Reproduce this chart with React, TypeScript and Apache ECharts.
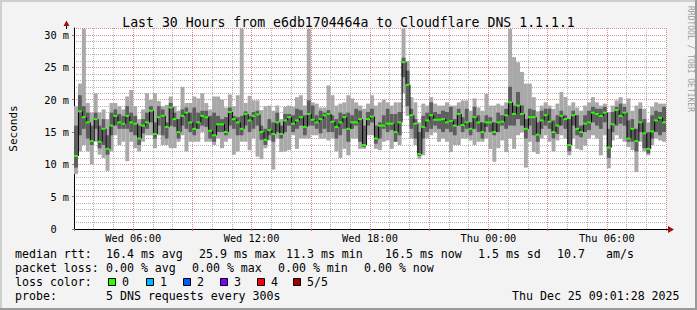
import React, { useEffect, useRef } from "react";
import * as echarts from "echarts";

// ---- time axis (hours since Wed 00:00) ----
const START_HOUR = 3;
const END_HOUR = 33;
const STEP_HOURS = 0.2; // one smoke column = 12 minutes

const xTickHours = [6, 12, 18, 24, 30];
const xTickLabels = ["Wed 06:00", "Wed 12:00", "Wed 18:00", "Thu 00:00", "Thu 06:00"];

// ---- RTT values in ms, one per column ----
const medianMs = [
  11.3, 18.2, 17.3, 16.5, 13.6, 17, 13.5, 15.5, 12.4, 16, 17.5, 16.5, 16.3, 17.5, 16.5, 16.3, 14, 16, 16.5, 18.3,
  14.7, 17.3, 17.5, 15.8, 18.8, 17, 15, 17.5, 18, 16.5, 15.5, 16.5, 17.5, 17.3, 15.2, 14.5, 16.2, 16.2, 15, 18.1,
  17, 16.5, 15.5, 17.8, 16.8, 17.5, 17.7, 15, 13.8, 15.3, 14.7, 16.5, 14.7, 16.8, 17.3, 16.3, 16.8, 17.3, 15.8, 17.8,
  16.9, 16.5, 17, 17.6, 17.8, 16.6, 15.8, 16.5, 17.3, 15.5, 16.5, 16.5, 17, 13, 17, 17.4, 14, 16, 16, 16.3,
  16.3, 15, 16.5, 25.8, 22.3, 17.6, 16.3, 11.6, 15.8, 16.8, 17.6, 16.9, 16.9, 17, 16.5, 16.7, 16, 17.8, 16.1, 16.5,
  15.5, 17.3, 16.5, 15, 16.5, 16.5, 15, 16.5, 16.6, 17.6, 19.6, 17.8, 19.1, 17.8, 15.5, 17.3, 17.3, 14.6, 16.8, 17.6,
  16.6, 15, 16, 17.5, 17, 13, 17.6, 15.5, 15, 16.3, 16.5, 18, 17.8, 17.5, 18, 12.6, 16.2, 18.4, 17.5, 18,
  14, 15.5, 13.6, 16.5, 14.8, 12.4, 15.1, 16.8, 17.2, 16.5,
];
const innerLowMs = [
  9.5, 14.5, 15.5, 14, 13, 15.5, 12.5, 13, 11.5, 14.5, 16, 15.5, 15.5, 15.5, 15, 14.5, 13, 14.8, 15.5, 16.5,
  14, 16, 14.5, 14, 16, 15.8, 14, 16, 15.5, 15, 14.5, 15.5, 16, 15.8, 14, 13.5, 15, 15, 14.5, 16,
  15.5, 14.5, 14.5, 16, 15, 15.5, 16, 13.8, 13, 14.5, 13.5, 15, 14, 15, 16, 15, 15.5, 16, 14.5, 16,
  16, 15.5, 14.8, 15.5, 15, 15, 14, 14.5, 15.5, 13.5, 15.5, 16, 13.5, 12.7, 16, 16.5, 13.2, 14, 15.5, 15,
  15.3, 13.5, 14.5, 23.5, 19, 15.5, 14, 11.3, 14, 15, 15.5, 16, 15.5, 15, 15.5, 15, 14.5, 16, 15, 15.5,
  14.5, 15.5, 15, 14, 15.8, 15, 14.5, 15, 16, 15.5, 16, 16, 17, 16, 14, 16, 14.5, 13.5, 15.5, 16,
  15.5, 14, 14.7, 16, 15.5, 12, 16, 14.5, 14.2, 15, 15.3, 16.5, 16, 15.5, 16.5, 11, 15, 16, 16.3, 16,
  13.5, 13.5, 12, 15, 12.5, 11.7, 14, 15, 14.5, 15,
];
const innerHighMs = [
  16, 20.7, 19, 18, 16, 18, 16, 17, 14.5, 18, 18.5, 17.8, 17.5, 19, 18, 17.5, 16, 17, 18, 19,
  16.5, 19, 18.5, 16.5, 19.5, 18, 17, 18.5, 18.8, 18, 18.8, 18, 18.3, 18.3, 17.5, 18, 17.5, 17, 17.3, 18.8,
  17.5, 17.3, 17.5, 18.2, 17.5, 18.1, 18.3, 16, 15.5, 17, 16.5, 18, 16, 17.8, 17.8, 17.6, 18.6, 18.4, 17.6, 19.9,
  19.1, 17.6, 18.3, 18, 18.4, 17.6, 17, 18, 17.8, 18, 17.6, 18.6, 18.3, 16, 18.1, 18.6, 16, 16.5, 17.6, 18.6,
  17.8, 17.8, 18.1, 26.5, 24.5, 18.6, 17, 15, 17.5, 18, 19.6, 18.1, 17.8, 18.3, 18.1, 18.9, 17, 18.6, 17.3, 18.6,
  16.5, 18.9, 17.6, 16.5, 17.6, 17.3, 16.5, 18, 17.6, 18.6, 22, 19.1, 21.2, 19.1, 17, 18.6, 18.4, 16.5, 18.3, 18.6,
  18.6, 16.8, 17.6, 18.3, 17.6, 17, 18.3, 17.6, 16, 17.6, 18.3, 18.9, 18.6, 18.6, 18.9, 15.5, 18.1, 18.9, 19.4, 18.9,
  16.8, 17, 15.5, 18.6, 17, 15, 17.6, 18.3, 18.1, 18.9,
];
const minMs = [
  8.5, 12, 13, 12, 10, 13.5, 11.5, 11, 9, 12, 14.5, 13, 13.5, 10.5, 13.5, 12.5, 12, 13.5, 14.5, 14.5,
  12.5, 14.5, 13, 13, 12.5, 12.5, 13.5, 14.5, 12, 13.5, 13.5, 13.5, 15, 13.5, 13.5, 13, 14, 12.5, 13.5, 14,
  11.5, 12, 13.5, 13.5, 12.2, 14, 11.2, 10.8, 12.5, 13.7, 9.2, 14, 11.9, 12, 12.2, 14.5, 12.4, 14, 14, 14,
  14.5, 14.5, 14, 14, 13.7, 14, 12, 11, 12.4, 11.4, 14, 14, 12.4, 12.4, 14.5, 14.5, 12.4, 12.2, 13.5, 13.7,
  12.4, 13.5, 13, 21, 17.5, 14, 13, 10.8, 11.4, 14, 14.5, 15, 13.5, 14, 13.5, 11.9, 13, 13, 14, 14,
  13.7, 13, 13.5, 13.5, 14, 12.4, 10.4, 12.5, 13.7, 11.9, 14, 12.4, 14.5, 15, 9.5, 13.5, 11.9, 11.6, 14, 14.5,
  13.5, 12, 13.7, 14.5, 14, 11.4, 14, 12.4, 12.2, 12.9, 14, 14.5, 14, 11.4, 14.5, 9.4, 13.7, 14.5, 14, 13.5,
  12.7, 12.2, 8.8, 13.5, 12, 11.4, 13, 14, 13.7, 13.5,
];
const maxMs = [
  19, 22.5, 31, 19.5, 18, 21, 18, 18.5, 17, 19.5, 19.5, 19, 18.5, 20.5, 21.5, 19, 17, 18.5, 21, 20,
  21, 19.8, 19, 19.2, 20.5, 19, 18.3, 22, 19.5, 19.5, 20.5, 20.2, 21, 19.5, 18.5, 20.5, 20.5, 20, 18.8, 20.8,
  19, 20.7, 31, 19.5, 20.6, 19.9, 19.9, 18.4, 19, 19.1, 18.3, 19.1, 17, 18.9, 19.1, 18.9, 20.4, 20.7, 19.1, 31,
  19.6, 19.4, 18.8, 18.8, 22.2, 20.7, 19.1, 19.4, 19.6, 20.7, 20.2, 19.6, 19.1, 18.6, 19.4, 20.7, 19.1, 19.6, 20, 19.6,
  19.1, 19.6, 19.6, 31, 26, 20.4, 19.6, 16.5, 19.4, 19.1, 20.4, 19.4, 19.1, 19.1, 19.6, 19.1, 19.1, 19.6, 19.9, 19.9,
  18.3, 20.2, 18.8, 18.3, 20.9, 19.1, 19.1, 19.4, 19.1, 19.6, 31, 26.6, 25.8, 24.3, 22.5, 22.5, 20.4, 18.2, 19.1, 19.6,
  19.1, 18.6, 19.4, 21.2, 20.4, 19.1, 19.6, 18.8, 18.3, 19.1, 19.6, 20.4, 19.6, 19.1, 19.4, 18.1, 19.1, 19.9, 20.4, 19.4,
  20.2, 18.3, 19.1, 19.6, 18.6, 16.5, 18.9, 19.6, 19.4, 19.4,
];

// ---- legend texts ----
const title = "Last 30 Hours from e6db1704464a to Cloudflare DNS 1.1.1.1";
const rttStats = ["16.4 ms avg", "25.9 ms max", "11.3 ms min", "16.5 ms now", "1.5 ms sd", "10.7", "am/s"];
const lossStats = ["0.00 % avg", "0.00 % max", "0.00 % min", "0.00 % now"];
const lossLabels = ["0", "1", "2", "3", "4", "5/5"];
const lossColors = ["#26ff00", "#00b8ff", "#0059ff", "#7e00ff", "#ff0000", "#a10000"];
const probeText = "5 DNS requests every 300s";
const stampText = "Thu Dec 25 09:01:28 2025";

const MONO = "'DejaVu Sans Mono', 'Liberation Mono', monospace";

export default function App() {
  const ref = useRef<HTMLDivElement>(null);

  useEffect(() => {
    document.body.style.margin = "0";
    if (!ref.current) return;
    const chart = echarts.init(ref.current, null, { renderer: "svg" });

    const smokeData = minMs.map((v, i) => [
      START_HOUR + (i + 0.5) * STEP_HOURS,
      v,
      innerLowMs[i],
      medianMs[i],
      innerHighMs[i],
      maxMs[i],
    ]);
    const medData = medianMs.map((v, i) => [
      START_HOUR + (i + 0.5) * STEP_HOURS,
      v,
      i === 0 ? v : medianMs[i - 1],
    ]);

    const rttX = [107, 200, 287, 386, 479, 558, 607];
    const lossX = [107, 193, 279, 365];
    const squareX = [108, 146, 183, 220, 257, 293];
    const rowY = [253.5, 267.8, 282.1, 296.4];
    const legendFont = { fontFamily: MONO, fontSize: 11.6, fill: "#000", verticalAlign: "middle" as const };

    const graphics: any[] = [
      // frame
      { type: "rect", shape: { x: 0, y: 0, width: 697, height: 2 }, style: { fill: "#cfcfcf" }, silent: true },
      { type: "rect", shape: { x: 0, y: 0, width: 2, height: 310 }, style: { fill: "#cfcfcf" }, silent: true },
      { type: "rect", shape: { x: 695, y: 0, width: 2, height: 310 }, style: { fill: "#9a9a9a" }, silent: true },
      { type: "rect", shape: { x: 0, y: 308, width: 697, height: 2 }, style: { fill: "#9a9a9a" }, silent: true },
      // axis extensions and arrows
      { type: "line", shape: { x1: 66.5, y1: 25, x2: 66.5, y2: 29 }, style: { stroke: "#000", lineWidth: 1 }, z: 10 },
      { type: "line", shape: { x1: 665, y1: 229.5, x2: 669, y2: 229.5 }, style: { stroke: "#000", lineWidth: 1 }, z: 10 },
      { type: "polygon", shape: { points: [[63.5, 26], [66.5, 20.5], [69.5, 26]] }, style: { fill: "#a01010" }, z: 10 },
      { type: "polygon", shape: { points: [[668, 226], [674, 229.5], [668, 233]] }, style: { fill: "#a01010" }, z: 10 },
      // watermark
      {
        type: "text",
        x: 690.5,
        y: 59,
        rotation: -Math.PI / 2,
        style: { text: "RRDTOOL / TOBI OETIKER", fontFamily: MONO, fontSize: 8, fill: "#9c9c9c", align: "center", verticalAlign: "middle" },
      },
      // legend rows
      { type: "text", x: 15, y: rowY[0], style: { ...legendFont, text: "median rtt:" } },
      { type: "text", x: 15, y: rowY[1], style: { ...legendFont, text: "packet loss:" } },
      { type: "text", x: 15, y: rowY[2], style: { ...legendFont, text: "loss color:" } },
      { type: "text", x: 15, y: rowY[3], style: { ...legendFont, text: "probe:" } },
      { type: "text", x: 106, y: rowY[3], style: { ...legendFont, text: probeText } },
      { type: "text", x: 512, y: rowY[3], style: { ...legendFont, text: stampText } },
    ];
    rttStats.forEach((s, i) => graphics.push({ type: "text", x: rttX[i] - 1, y: rowY[0], style: { ...legendFont, text: s } }));
    lossStats.forEach((s, i) => graphics.push({ type: "text", x: lossX[i] - 1, y: rowY[1], style: { ...legendFont, text: s } }));
    lossLabels.forEach((s, i) => {
      graphics.push({
        type: "rect",
        shape: { x: squareX[i] + 0.5, y: 278.5, width: 7, height: 7 },
        style: { fill: lossColors[i], stroke: "#000", lineWidth: 1 },
      });
      graphics.push({ type: "text", x: squareX[i] + 14, y: rowY[2], style: { ...legendFont, text: s } });
    });

    const gridMajor = { color: "#e08a8a", width: 1, type: [1, 1] as any };
    const gridMinor = { color: "#b4b4b4", width: 1, type: [1, 1] as any };

    const hiddenAxis = {
      axisLine: { show: false },
      axisTick: { show: false },
      axisLabel: { show: false },
    };

    chart.setOption({
      animation: false,
      backgroundColor: "#f3f3f3",
      title: {
        text: title,
        left: "center",
        top: 11,
        textStyle: { fontFamily: MONO, fontSize: 13.2, fontWeight: "normal", color: "#000" },
      },
      grid: { left: 66, top: 28, width: 600, height: 201, show: true, backgroundColor: "#ffffff", borderWidth: 0 },
      xAxis: [
        {
          // hourly minor grid
          type: "value",
          position: "bottom",
          min: START_HOUR,
          max: END_HOUR,
          interval: 1,
          ...hiddenAxis,
          splitLine: { show: true, lineStyle: gridMinor },
        },
        {
          type: "value",
          position: "bottom",
          offset: 0,
          min: START_HOUR,
          max: END_HOUR,
          interval: 3,
          axisLine: { show: true, onZero: false, lineStyle: { color: "#000", width: 1 } },
          axisTick: { show: true, length: 2, lineStyle: { color: "#b07070" } },
          axisLabel: {
            formatter: (v: number) => {
              const k = xTickHours.indexOf(Math.round(v));
              return k >= 0 ? xTickLabels[k] : "";
            },
            fontFamily: MONO,
            fontSize: 10.3,
            color: "#000",
            margin: 4,
          },
          splitLine: { show: true, lineStyle: gridMajor },
        },
      ],
      yAxis: [
        {
          // 1 ms minor grid
          type: "value",
          position: "left",
          min: 0,
          max: 31.1,
          interval: 1,
          ...hiddenAxis,
          splitLine: { show: true, lineStyle: gridMinor },
        },
        {
          type: "value",
          position: "left",
          offset: 0,
          min: 0,
          max: 31.1,
          interval: 5,
          name: "Seconds",
          nameLocation: "middle",
          nameGap: 55,
          nameTextStyle: { fontFamily: MONO, fontSize: 11, color: "#000" },
          axisLine: { show: true, onZero: false, lineStyle: { color: "#000", width: 1 } },
          axisTick: { show: true, length: 2, lineStyle: { color: "#b07070" } },
          axisLabel: {
            formatter: (v: number) => (v === 0 ? "0\u00a0\u00a0" : `${v} m`),
            fontFamily: MONO,
            fontSize: 10.3,
            color: "#000",
            margin: 5,
            showMaxLabel: false,
          },
          splitLine: { show: true, lineStyle: gridMajor },
        },
      ],
      series: [
        {
          type: "custom",
          name: "smoke",
          xAxisIndex: 1,
          yAxisIndex: 1,
          data: smokeData,
          clip: true,
          renderItem: (params: any, api: any) => {
            const t = api.value(0);
            const left = api.coord([t - STEP_HOURS / 2, 0])[0];
            const right = api.coord([t + STEP_HOURS / 2, 0])[0];
            const yMin = api.coord([t, api.value(1)])[1];
            const yLo = api.coord([t, api.value(2)])[1];
            const yHi = api.coord([t, api.value(4)])[1];
            const yMax = api.coord([t, api.value(5)])[1];
            return {
              type: "group",
              children: [
                { type: "rect", shape: { x: left, y: yMax, width: right - left, height: yMin - yMax }, style: { fill: "#a9a9a9" } },
                { type: "rect", shape: { x: left, y: yHi, width: right - left, height: yLo - yHi }, style: { fill: "#5e5e5e" } },
              ],
            };
          },
        },
        {
          type: "custom",
          name: "median",
          xAxisIndex: 1,
          yAxisIndex: 1,
          data: medData,
          clip: true,
          z: 3,
          renderItem: (params: any, api: any) => {
            const t = api.value(0);
            const left = api.coord([t - STEP_HOURS / 2, 0])[0];
            const right = api.coord([t + STEP_HOURS / 2, 0])[0];
            const yMed = api.coord([t, api.value(1)])[1];
            const yPrev = api.coord([t, api.value(2)])[1];
            return {
              type: "group",
              children: [
                { type: "line", shape: { x1: left + 0.5, y1: yPrev, x2: left + 0.5, y2: yMed }, style: { stroke: "#000", lineWidth: 1 } },
                { type: "rect", shape: { x: left, y: yMed - 1, width: right - left, height: 2 }, style: { fill: "#26ff00" } },
              ],
            };
          },
        },
      ],
      graphic: graphics,
    });

    return () => chart.dispose();
  }, []);

  return <div ref={ref} style={{ width: 697, height: 310 }} />;
}
